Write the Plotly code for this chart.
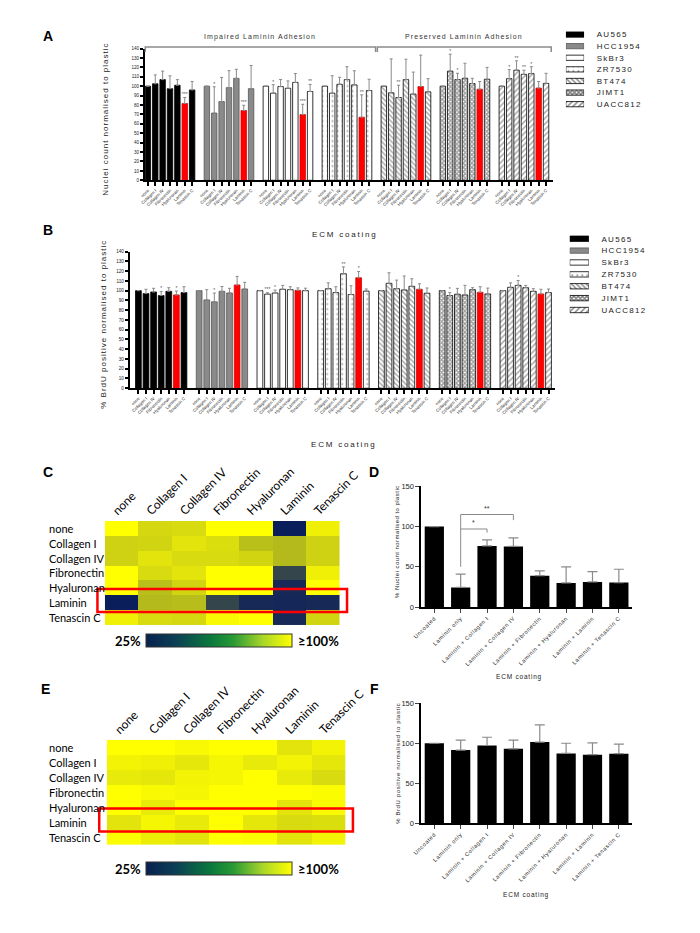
import plotly.graph_objects as go

W, H = 700, 933
AR = "Liberation Sans"
CAL = "Lato"

# ---------------- data ----------------
CELL_LINES = ["AU565", "HCC1954", "SkBr3", "ZR7530", "BT474", "JIMT1", "UACC812"]
COATINGS = ["none", "Collagen I", "Collagen IV", "Fibronectin", "Hyaluronan", "Laminin", "Tenascin C"]
GROUP_TITLES = ["Impaired Laminin Adhesion", "Preserved Laminin Adhesion"]

# Panel A: nuclei count normalised to plastic (mean, upper SD)
A_AU565 = [100, 102.6, 107, 97.4, 101, 81.6, 96]
A_AU565_ERR = [None, 9.4, 9, 13.6, 6, 6.4, 9]
A_HCC1954 = [100, 71.4, 83.7, 98.5, 108.3, 74.2, 97.4]
A_HCC1954_ERR = [None, 28, 25.6, 18, 9.7, 5.5, 24.6]
A_SKBR3 = [100, 92.6, 99.6, 97.8, 104, 69.8, 94.4]
A_SKBR3_ERR = [None, 9, 7.5, 7.8, 9.5, 11, 7.5]
A_ZR7530 = [100, 92.6, 102, 107, 101.4, 67, 95.4]
A_ZR7530_ERR = [None, 18.5, 7.5, 13.7, 15, 23.8, 12]
A_BT474 = [100, 93, 88, 107, 91.6, 99.6, 94]
A_BT474_ERR = [None, 36, 13, 21.7, 23.4, 33.4, 14]
A_JIMT1 = [100, 116, 107, 108.4, 102.8, 96.8, 107.4]
A_JIMT1_ERR = [None, 18, 6.7, 16, 5.6, 8.2, 12.6]
A_UACC812 = [100, 108, 117, 112.6, 113.4, 98, 103]
A_UACC812_ERR = [None, 9.6, 10, 4.4, 7.3, 7, 10.7]
A_STARS_AU565 = ["", "", "", "", "", "***", ""]
A_STARS_HCC1954 = ["", "*", "", "", "", "***", ""]
A_STARS_SKBR3 = ["", "*", "", "", "", "***", "**"]
A_STARS_ZR7530 = ["", "", "", "", "", "**", ""]
A_STARS_BT474 = ["", "", "**", "", "", "", ""]
A_STARS_JIMT1 = ["", "*", "*", "", "", "", ""]
A_STARS_UACC812 = ["", "*", "**", "**", "*", "", ""]

# Panel B: % BrdU positive normalised to plastic
B_AU565 = [100, 97, 98.6, 95, 99.3, 95.6, 98]
B_AU565_ERR = [None, 4.4, 3.8, 4, 3.7, 4, 6]
B_HCC1954 = [100, 90.5, 88.5, 99.3, 97.6, 105.8, 101.7]
B_HCC1954_ERR = [None, 10.5, 9, 5, 4.8, 8.8, 6.8]
B_SKBR3 = [100, 96.4, 97.6, 101.4, 101, 100.3, 100]
B_SKBR3_ERR = [None, 1.5, 3, 4, 3, 2.5, 2.5]
B_ZR7530 = [100, 102, 98, 117.3, 96, 113.2, 99.5]
B_ZR7530_ERR = [None, 6, 6, 7, 9, 6.4, 2.2]
B_BT474 = [100, 107.5, 102, 100.7, 104.4, 101.4, 97.3]
B_BT474_ERR = [None, 10.8, 8.8, 14.3, 7.8, 5.6, 5.4]
B_JIMT1 = [100, 95, 96.3, 95.6, 101, 98.3, 96.6]
B_JIMT1_ERR = [None, 3, 6, 9.8, 2, 5.7, 6]
B_UACC812 = [100, 103.4, 105.4, 103, 99.3, 96.6, 98]
B_UACC812_ERR = [None, 4.6, 5, 2.4, 2.7, 4.8, 3.7]
B_STARS_AU565 = ["", "", "", "*", "", "*", ""]
B_STARS_HCC1954 = ["", "", "*", "", "", "", ""]
B_STARS_SKBR3 = ["", "***", "*", "", "", "", ""]
B_STARS_ZR7530 = ["", "", "", "**", "", "*", ""]
B_STARS_BT474 = ["", "", "", "", "", "", ""]
B_STARS_JIMT1 = ["", "*", "", "", "", "", ""]
B_STARS_UACC812 = ["", "", "*", "", "", "", ""]

# Panel C heatmap (nuclei count, % of plastic), rows = first coating
HM_C_NONE = [100, 87, 88, 100, 100, 25, 95]
HM_C_COL1 = [85, 86, 91, 89, 79, 77, 85]
HM_C_COL4 = [85, 91, 88, 88, 86, 77, 85]
HM_C_FIB = [100, 88, 91, 100, 100, 38, 95]
HM_C_HYA = [100, 79, 86, 100, 100, 29, 100]
HM_C_LAM = [25, 77, 78, 38, 29, 28, 29]
HM_C_TEN = [95, 88, 87, 98, 100, 29, 86]

# Panel E heatmap (BrdU, % of plastic)
HM_E_NONE = [100, 100, 98, 100, 100, 91, 96]
HM_E_COL1 = [96, 95, 92, 97, 93, 96, 92]
HM_E_COL4 = [93, 92, 96, 97, 100, 93, 88]
HM_E_FIB = [100, 98, 97, 100, 100, 100, 99]
HM_E_HYA = [100, 93, 100, 100, 100, 91, 98]
HM_E_LAM = [91, 97, 93, 100, 92, 88, 89]
HM_E_TEN = [99, 94, 91, 100, 99, 91, 96]

# Panels D and F
DF_CATS = ["Uncoated", "Laminin only", "Laminin + Collagen I", "Laminin + Collagen IV",
           "Laminin + Fibronectin", "Laminin + Hyaluronan", "Laminin + Laminin", "Laminin + Tenascin C"]
D_MEAN = [100, 24.5, 76, 75.3, 39, 30, 31.3, 30.5]
D_ERR = [None, 16.5, 7.5, 10.7, 6, 20, 12.7, 16.5]
F_MEAN = [100, 91.5, 97.2, 93, 101.4, 87.3, 85.7, 87]
F_ERR = [None, 12.3, 10.3, 10.8, 21.6, 12.7, 14.8, 12]
D_SIG = [(1, 2, "*"), (1, 3, "**")]

# ---------------- styling ----------------
STYLE = {
    "AU565": dict(fill="black", shape="", edge="black", size=4, sol=0.3),
    "HCC1954": dict(fill="#8a8a8a", shape="", edge="#555555", size=4, sol=0.3),
    "SkBr3": dict(fill="white", shape="", edge="black", size=4, sol=0.3),
    "ZR7530": dict(fill="white", shape=".", edge="black", size=5, sol=0.12),
    "BT474": dict(fill="white", shape="\\", edge="black", size=3.5, sol=0.4),
    "JIMT1": dict(fill="white", shape="x", edge="black", size=3, sol=0.7),
    "UACC812": dict(fill="white", shape="/", edge="black", size=4, sol=0.35),
}
ERRC = "#8a8a8a"


def ls(text, sp):
    return f'<span style="letter-spacing:{sp}px">{text}</span>'


def px(x):
    return x / W


def py(y):
    return 1 - y / H


fig = go.Figure()
annos = []
shapes = []

A_MEANS = [A_AU565, A_HCC1954, A_SKBR3, A_ZR7530, A_BT474, A_JIMT1, A_UACC812]
A_ERRS = [A_AU565_ERR, A_HCC1954_ERR, A_SKBR3_ERR, A_ZR7530_ERR, A_BT474_ERR, A_JIMT1_ERR, A_UACC812_ERR]
A_STARS = [A_STARS_AU565, A_STARS_HCC1954, A_STARS_SKBR3, A_STARS_ZR7530, A_STARS_BT474, A_STARS_JIMT1, A_STARS_UACC812]
B_MEANS = [B_AU565, B_HCC1954, B_SKBR3, B_ZR7530, B_BT474, B_JIMT1, B_UACC812]
B_ERRS = [B_AU565_ERR, B_HCC1954_ERR, B_SKBR3_ERR, B_ZR7530_ERR, B_BT474_ERR, B_JIMT1_ERR, B_UACC812_ERR]
B_STARS = [B_STARS_AU565, B_STARS_HCC1954, B_STARS_SKBR3, B_STARS_ZR7530, B_STARS_BT474, B_STARS_JIMT1, B_STARS_UACC812]

NC = len(COATINGS)
LAM = COATINGS.index("Laminin")
SLOT = NC + 1


def grouped(means_list, errs_list, stars_list, xa, ya, width):
    allx = []
    for k, line in enumerate(CELL_LINES):
        st = STYLE[line]
        xs = [k * SLOT + i for i in range(NC)]
        allx += xs
        colors = [st["fill"]] * NC
        colors[LAM] = "#ff0000"
        shp = [st["shape"]] * NC
        shp[LAM] = ""
        edges = [st["edge"]] * NC
        edges[LAM] = "#dd0000"
        means = means_list[k]
        errs = errs_list[k]
        fig.add_trace(go.Bar(
            x=xs, y=means, width=width, xaxis=xa, yaxis=ya, showlegend=False,
            marker=dict(color=colors, line=dict(color=edges, width=0.8),
                        pattern=dict(shape=shp, fgcolor="black", fillmode="overlay",
                                     size=st["size"], solidity=st["sol"])),
            error_y=dict(type="data", symmetric=False, array=errs, arrayminus=[0] * NC,
                         color=ERRC, thickness=1, width=1.5),
        ))
        sy = [m + (e or 0) + 2.5 for m, e in zip(means, errs)]
        fig.add_trace(go.Scatter(
            x=xs, y=sy, text=stars_list[k], mode="text", xaxis=xa, yaxis=ya,
            textfont=dict(size=5, color="#555555", family=AR), showlegend=False,
            hoverinfo="skip"))
    return allx


ax_x = grouped(A_MEANS, A_ERRS, A_STARS, "x", "y", 0.74)
bx_x = grouped(B_MEANS, B_ERRS, B_STARS, "x2", "y2", 0.76)

bar_axis_common = dict(showgrid=False, zeroline=False, showline=True, linecolor="black",
                       linewidth=2, ticks="outside", tickcolor="black")
xtick_font = dict(family=AR, size=4.3, color="#222")


def bar_xaxis(domain, rng, xs):
    return dict(bar_axis_common, domain=domain, range=rng, tickvals=xs,
                ticktext=COATINGS * len(CELL_LINES), tickangle=-45, tickfont=xtick_font,
                ticklen=4, tickwidth=2)


def bar_yaxis(domain, anchor):
    return dict(bar_axis_common, domain=domain, range=[0, 140], dtick=10,
                tickfont=dict(family=AR, size=4.6, color="#222"), ticklen=3, tickwidth=1.5,
                anchor=anchor)


# ---------------- legend swatches (hidden axes) ----------------
def legend_swatches(xa, ya):
    for line in CELL_LINES:
        st = STYLE[line]
        fig.add_trace(go.Bar(
            y=[line], x=[1], orientation="h", width=0.45, xaxis=xa, yaxis=ya,
            showlegend=False, hoverinfo="skip",
            marker=dict(color=st["fill"], line=dict(color=st["edge"], width=0.8),
                        pattern=dict(shape=st["shape"], fgcolor="black", fillmode="overlay",
                                     size=st["size"], solidity=st["sol"]))))


legend_swatches("x7", "y7")
legend_swatches("x8", "y8")


def legend_axes(xdom, ydom, anchor):
    xa = dict(domain=xdom, range=[0, 1], visible=False, anchor=anchor)
    ya = dict(domain=ydom, autorange="reversed", side="right", showline=False,
              showgrid=False, zeroline=False, ticks="outside", ticklen=10,
              tickcolor="rgba(0,0,0,0)", tickvals=CELL_LINES,
              ticktext=[ls(c, 1.3) for c in CELL_LINES],
              tickfont=dict(family=AR, size=8, color="#222"), type="category")
    return xa, ya


# ---------------- heatmaps ----------------
HM_SCALE = [[0, "#0a1e5c"], [1, "#ffff00"]]
CB_SCALE = [[0, "#08204f"], [0.2, "#0b3f55"], [0.45, "#0a7a3c"], [0.6, "#2a9a35"],
            [0.8, "#a8d62a"], [1, "#ffff00"]]

HM_C = [HM_C_NONE, HM_C_COL1, HM_C_COL4, HM_C_FIB, HM_C_HYA, HM_C_LAM, HM_C_TEN]
HM_E = [HM_E_NONE, HM_E_COL1, HM_E_COL4, HM_E_FIB, HM_E_HYA, HM_E_LAM, HM_E_TEN]

for z, xa, ya, cby in [(HM_C, "x3", "y3", py(643)), (HM_E, "x5", "y5", py(873))]:
    fig.add_trace(go.Heatmap(z=z, x=list(range(NC)), y=list(range(NC)), xaxis=xa, yaxis=ya,
                             colorscale=HM_SCALE, zmin=25, zmax=100, showscale=False,
                             hoverinfo="skip"))
    fig.add_trace(go.Scatter(
        x=[None], y=[None], mode="markers", xaxis=xa, yaxis=ya, showlegend=False,
        hoverinfo="skip",
        marker=dict(color=[25], colorscale=CB_SCALE, cmin=25, cmax=100, showscale=True,
                    colorbar=dict(orientation="h", x=px(220), xanchor="center", y=cby,
                                  yanchor="middle", len=152 / W, lenmode="fraction",
                                  thickness=13, thicknessmode="pixels", xpad=0, ypad=0,
                                  outlinewidth=1, outlinecolor="#333", showticklabels=False,
                                  ticks=""))))


def hm_axes(xdom, ydom, xanchor, yanchor):
    xa = dict(domain=xdom, range=[-0.5, NC - 0.5], side="top", tickvals=list(range(NC)),
              ticktext=COATINGS, tickangle=-45, tickfont=dict(family=CAL, size=12, color="black"),
              showgrid=False, zeroline=False, showline=False, ticks="", anchor=xanchor,
              ticklabelshift=-8)
    ya = dict(domain=ydom, range=[NC - 0.5, -0.5], showticklabels=False, showgrid=False,
              zeroline=False, showline=False, ticks="", anchor=yanchor)
    return xa, ya


for ya in ["y3", "y5"]:
    for r, name in enumerate(COATINGS):
        annos.append(dict(x=px(41), xref="paper", y=r, yref=ya, text=name, showarrow=False,
                          xanchor="left", yanchor="middle",
                          font=dict(family=CAL, size=11, color="black")))


def yfrac(d):
    return 1 - (d + 0.5) / NC


def xfrac(d):
    return (d + 0.5) / NC


# red highlight rectangles around the Laminin row
for xa, ya in [("x3", "y3"), ("x5", "y5")]:
    shapes.append(dict(type="rect", xref=f"{xa} domain", yref=f"{ya} domain",
                       x0=xfrac(-0.72), x1=xfrac(NC - 0.28),
                       y0=yfrac(LAM - 0.92), y1=yfrac(LAM + 0.62),
                       line=dict(color="#ff0000", width=2.5)))

for yc in [643, 873]:
    annos.append(dict(x=px(141), y=py(yc), xref="paper", yref="paper", text="<b>25%</b>",
                      showarrow=False, xanchor="right", yanchor="middle",
                      font=dict(family=CAL, size=13, color="black")))
    annos.append(dict(x=px(300), y=py(yc), xref="paper", yref="paper", text="<b>≥100%</b>",
                      showarrow=False, xanchor="left", yanchor="middle",
                      font=dict(family=CAL, size=13, color="black")))

# ---------------- D and F ----------------
for mean, err, xa, ya in [(D_MEAN, D_ERR, "x4", "y4"), (F_MEAN, F_ERR, "x6", "y6")]:
    fig.add_trace(go.Bar(x=list(range(len(DF_CATS))), y=mean, width=0.73, xaxis=xa, yaxis=ya,
                         showlegend=False, marker=dict(color="black", line=dict(width=0)),
                         error_y=dict(type="data", symmetric=False, array=err,
                                      arrayminus=[0] * len(err), color=ERRC, thickness=1.2,
                                      width=5)))


def df_axes(xdom, ydom, xanchor, yanchor):
    xa = dict(domain=xdom, range=[-0.5, len(DF_CATS) - 0.5], tickvals=list(range(len(DF_CATS))),
              ticktext=[ls(c, 0.6) for c in DF_CATS], tickangle=-45,
              tickfont=dict(family=AR, size=5.6, color="#222"), showgrid=False, zeroline=False,
              showline=True, linecolor="black", linewidth=1.5, ticks="outside", ticklen=4,
              tickwidth=1.2, anchor=xanchor)
    ya = dict(domain=ydom, range=[0, 150], dtick=50, tickfont=dict(family=AR, size=7.5, color="#222"),
              showgrid=False, zeroline=False, showline=True, linecolor="black", linewidth=1.5,
              ticks="outside", ticklen=4, tickwidth=1.2, anchor=yanchor)
    return xa, ya


# significance brackets in D
base = D_MEAN[1] + D_ERR[1]
for level, (a, b, lab) in enumerate(D_SIG):
    yb = 97 + level * 18
    left_bottom = base + 9 if level == 0 else yb - 18
    right_bottom = D_MEAN[b] + D_ERR[b] + 9 if level == 0 else D_MEAN[b] + D_ERR[b] + 22
    shapes.append(dict(type="path", xref="x4", yref="y4",
                       path=f"M {a},{left_bottom} L {a},{yb} L {b},{yb} L {b},{right_bottom}",
                       line=dict(color="#8a8a8a", width=1)))
    annos.append(dict(x=(a + b) / 2, y=yb + 1, xref="x4", yref="y4", text=lab, showarrow=False,
                      yanchor="bottom", font=dict(family=AR, size=7, color="#333")))

# ---------------- brackets over A (paper coordinates from the A axis mapping) ----------------
XR_A = [-0.38, 55.0]
A_LEFT, A_RIGHT, A_TOP = 143, 569, 45


def a_px(d):
    return A_LEFT + (d - XR_A[0]) / (XR_A[1] - XR_A[0]) * (A_RIGHT - A_LEFT)


imp_x0, imp_x1 = -0.35, 4 * SLOT - 1
pre_x0, pre_x1 = 4 * SLOT - 1, len(CELL_LINES) * SLOT - 1.3
for x0, x1, title in [(imp_x0, imp_x1 - 0.12, GROUP_TITLES[0]), (pre_x0 + 0.12, pre_x1, GROUP_TITLES[1])]:
    p0, p1 = px(a_px(x0)), px(a_px(x1))
    yt, yb = py(A_TOP - 1.5), py(A_TOP + 3.5)
    shapes.append(dict(type="path", xref="paper", yref="paper",
                       path=f"M {p0},{yb} L {p0},{yt} L {p1},{yt} L {p1},{yb}",
                       line=dict(color="#8a8a8a", width=1.5)))
    annos.append(dict(x=(p0 + p1) / 2, y=py(33), xref="paper", yref="paper", text=ls(title, 1.1),
                      showarrow=False, xanchor="center", yanchor="middle",
                      font=dict(family=AR, size=7, color="#333")))


# ---------------- axis titles / panel letters ----------------
def txt(x, y, t, size, sp, angle=0, bold=False, family=AR, color="#222"):
    annos.append(dict(x=px(x), y=py(y), xref="paper", yref="paper",
                      text=(f"<b>{t}</b>" if bold else ls(t, sp)), showarrow=False,
                      textangle=angle, xanchor="center", yanchor="middle",
                      font=dict(family=family, size=size, color=color)))


txt(102, 116, "Nuclei count normalised to plastic", 8, 1.0, -90)
txt(100, 323, "% BrdU positive normalised to plastic", 8, 1.0, -90)
txt(352, 233, "ECM coating", 8, 1.8)
txt(350, 445, "ECM coating", 8, 1.8)
txt(406, 543, "% Nuclei count normalised to plastic", 6, 0.45, -90)
txt(406, 767, "% BrdU positive normalised to plastic", 6, 0.6, -90)
txt(533, 680, "ECM coating", 6.5, 0.8)
txt(540, 900, "ECM coating", 6.5, 0.8)
for L, x, y in [("A", 42, 32), ("B", 42, 228), ("C", 42, 473), ("D", 382, 473), ("E", 39, 692), ("F", 382, 692)]:
    txt(x, y, L, 14, 0, bold=True, color="black")

# ---------------- layout ----------------
xa1 = bar_xaxis([px(A_LEFT), px(A_RIGHT)], XR_A, ax_x)
xa1["anchor"] = "y"
ya1 = bar_yaxis([py(178), py(A_TOP)], "x")
xa2 = bar_xaxis([px(127), px(571)], [-1.14, 54.9], bx_x)
xa2["anchor"] = "y2"
ya2 = bar_yaxis([py(388), py(250)], "x2")
xa3, ya3 = hm_axes([px(101), px(346)], [py(627), py(522)], "y3", "x3")
xa5, ya5 = hm_axes([px(103), px(352)], [py(849), py(743)], "y5", "x5")
xa4, ya4 = df_axes([px(431), px(651)], [py(609), py(487)], "y4", "x4")
xa6, ya6 = df_axes([px(431), px(651)], [py(827.3), py(706)], "y6", "x6")
xa7, ya7 = legend_axes([px(582), px(601)], [py(107), py(25)], "y7")
ya7["anchor"] = "x7"
xa8, ya8 = legend_axes([px(586), px(606)], [py(315), py(231)], "y8")
ya8["anchor"] = "x8"

fig.update_layout(
    width=W, height=H, margin=dict(l=0, r=0, t=0, b=0), autosize=False,
    paper_bgcolor="white", plot_bgcolor="white", barmode="overlay", showlegend=False,
    font=dict(family=AR, color="#222"),
    xaxis=xa1, yaxis=ya1, xaxis2=xa2, yaxis2=ya2, xaxis3=xa3, yaxis3=ya3,
    xaxis4=xa4, yaxis4=ya4, xaxis5=xa5, yaxis5=ya5, xaxis6=xa6, yaxis6=ya6,
    xaxis7=xa7, yaxis7=ya7, xaxis8=xa8, yaxis8=ya8,
    annotations=annos, shapes=shapes,
)

fig.write_html("out.html", config={"displayModeBar": False},
               post_script="document.body.style.margin='0';")
